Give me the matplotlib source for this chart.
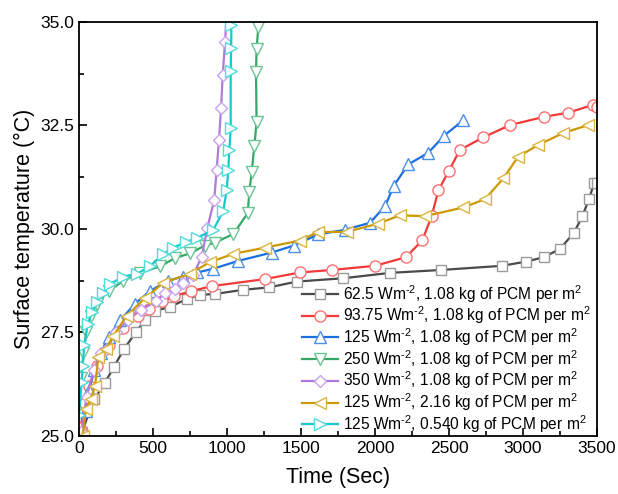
import matplotlib.pyplot as plt

plt.rcParams['font.family'] = ['Liberation Sans', 'DejaVu Sans']
plt.rcParams['mathtext.fontset'] = 'custom'
plt.rcParams['mathtext.rm'] = 'Liberation Sans'
plt.rcParams['mathtext.it'] = 'Liberation Sans:italic'

# 62.5 W/m2, 1.08 kg
t_gray = [20, 103, 176, 236, 304, 385, 446, 514, 615, 730, 818, 919, 1106, 1286, 1471,
          1786, 2101, 2446, 2856, 3018, 3142, 3250, 3345, 3401, 3446, 3482, 3500]
T_gray = [25.1, 25.89, 26.29, 26.67, 27.10, 27.51, 27.80, 28.02, 28.12, 28.31, 28.41, 28.43,
          28.53, 28.59, 28.73, 28.81, 28.94, 29.01, 29.11, 29.21, 29.32, 29.52, 29.91, 30.31,
          30.72, 31.12, 31.1]

# 93.75 W/m2, 1.08 kg
t_red = [10, 41, 70, 120, 200, 300, 400, 473, 560, 642, 760, 897, 1257, 1493, 1707, 2000,
         2210, 2320, 2383, 2428, 2500, 2574, 2730, 2912, 3144, 3306, 3475, 3500]
T_red = [25.2, 25.8, 26.2, 26.7, 27.2, 27.6, 27.9, 28.07, 28.25, 28.38, 28.5, 28.62, 28.79,
         28.95, 29.01, 29.11, 29.32, 29.73, 30.31, 30.93, 31.41, 31.91, 32.21, 32.51, 32.71,
         32.81, 33.0, 32.95]

# 125 W/m2, 1.08 kg
t_blue = [20, 45, 70, 100, 150, 200, 280, 380, 480, 600, 700, 800, 907, 1076, 1302, 1450,
          1617, 1797, 1966, 2068, 2128, 2225, 2360, 2466, 2597]
T_blue = [25.0, 25.6, 26.1, 26.6, 27.0, 27.4, 27.8, 28.2, 28.5, 28.75, 28.85, 28.95, 29.04,
          29.23, 29.43, 29.6, 29.87, 29.98, 30.15, 30.55, 31.05, 31.56, 31.84, 32.25, 32.63]

# 250 W/m2, 1.08 kg
t_green = [15, 30, 50, 80, 120, 200, 300, 412, 550, 650, 750, 850, 919, 1043, 1140, 1151,
           1167, 1185, 1200, 1196, 1200, 1212, 1220]
T_green = [26.4, 27.0, 27.5, 27.9, 28.2, 28.5, 28.75, 28.94, 29.1, 29.3, 29.41, 29.6, 29.67,
           29.88, 30.38, 30.89, 31.38, 32.0, 32.59, 33.8, 34.34, 34.89, 35.3]

# 350 W/m2, 1.08 kg
t_purple = [15, 52, 100, 150, 187, 250, 330, 420, 520, 580, 649, 700, 773, 829, 867, 914,
            930, 946, 960, 971, 987, 1000]
T_purple = [25.1, 25.95, 26.6, 27.0, 27.1, 27.5, 27.8, 28.05, 28.25, 28.45, 28.55, 28.7,
            28.9, 29.33, 30.02, 30.7, 31.43, 32.15, 32.92, 33.72, 34.52, 35.3]

# 125 W/m2, 2.16 kg
t_yellow = [25, 47, 80, 108, 131, 180, 232, 322, 446, 570, 750, 885, 1043, 1257, 1493,
            1617, 1809, 2022, 2169, 2338, 2597, 2743, 2867, 2968, 3103, 3273, 3441]
T_yellow = [25.0, 25.65, 25.9, 26.2, 26.9, 27.1, 27.42, 27.9, 28.33, 28.7, 28.92, 29.2, 29.4,
            29.55, 29.72, 29.93, 29.93, 30.13, 30.33, 30.31, 30.52, 30.72, 31.22, 31.75, 32.03,
            32.32, 32.51]

# 125 W/m2, 0.540 kg
t_cyan = [0, 18, 25, 36, 59, 90, 120, 160, 209, 300, 395, 480, 570, 637, 720, 795, 908, 975,
          998, 1009, 1016, 1025, 1025, 1028, 1030, 1032]
T_cyan = [25.5, 26.3, 26.7, 27.2, 27.7, 28.0, 28.24, 28.45, 28.67, 28.85, 28.92, 29.1, 29.4,
          29.55, 29.68, 29.78, 29.98, 30.44, 30.94, 31.43, 31.91, 32.43, 33.82, 34.36, 34.93,
          35.3]

labels = [r'62.5 Wm$^{\text{-}2}$, 1.08 kg of PCM per m$^{2}$',
          r'93.75 Wm$^{\text{-}2}$, 1.08 kg of PCM per m$^{2}$',
          r'125 Wm$^{\text{-}2}$, 1.08 kg of PCM per m$^{2}$',
          r'250 Wm$^{\text{-}2}$, 1.08 kg of PCM per m$^{2}$',
          r'350 Wm$^{\text{-}2}$, 1.08 kg of PCM per m$^{2}$',
          r'125 Wm$^{\text{-}2}$, 2.16 kg of PCM per m$^{2}$',
          r'125 Wm$^{\text{-}2}$, 0.540 kg of PCM per m$^{2}$']

series = [(t_gray, T_gray), (t_red, T_red), (t_blue, T_blue), (t_green, T_green),
          (t_purple, T_purple), (t_yellow, T_yellow), (t_cyan, T_cyan)]
line_colors = ['#4a4a4a', '#f23a3a', '#1c6fdf', '#35a868', '#b07ad8', '#cc9900', '#19c8cc']
edge_colors = ['#9a9a9a', '#ff7070', '#4b8fe8', '#6cc495', '#c9a2ec', '#dcb440', '#50dcdc']
markers = ['s', 'o', '^', 'v', 'D', '<', '>']
sizes = [6.5, 8, 8, 8, 6.5, 8.5, 8.5]

fig = plt.figure(figsize=(6.18, 4.94), dpi=100)
ax = fig.add_axes([0.1278, 0.1174, 0.8382, 0.8381])

for (t, T), lab, lc, ec, m, ms in zip(series, labels, line_colors, edge_colors, markers, sizes):
    ax.plot(t, T, color=lc, lw=1.6, marker=m, ms=ms, mfc='white', mec=ec, mew=1.0,
            label=lab)

ax.set_xlim(0, 3500)
ax.set_ylim(25, 35)
ax.set_xticks(range(0, 3501, 500))
ax.set_xticks(range(250, 3500, 500), minor=True)
ax.set_yticks([25, 27.5, 30, 32.5, 35])
ax.set_yticks([26.25, 28.75, 31.25, 33.75], minor=True)
ax.set_yticklabels(['25.0', '27.5', '30.0', '32.5', '35.0'])
ax.tick_params(which='major', direction='in', length=6, width=1.2, labelsize=12.5)
ax.tick_params(which='minor', direction='in', length=3.5, width=1.2)
for s in ax.spines.values():
    s.set_linewidth(1.3)

ax.set_xlabel('Time (Sec)', fontsize=15.5, labelpad=8)
ax.set_ylabel('Surface temperature (\u00b0C)', fontsize=15.5, labelpad=4)

ax.legend(loc='upper left', bbox_to_anchor=(0.43, 0.370), frameon=False, fontsize=11.2,
          handlelength=2.35, handletextpad=0.3, labelspacing=0.0, borderpad=0,
          borderaxespad=0)

fig.savefig('out.png', dpi=100)
